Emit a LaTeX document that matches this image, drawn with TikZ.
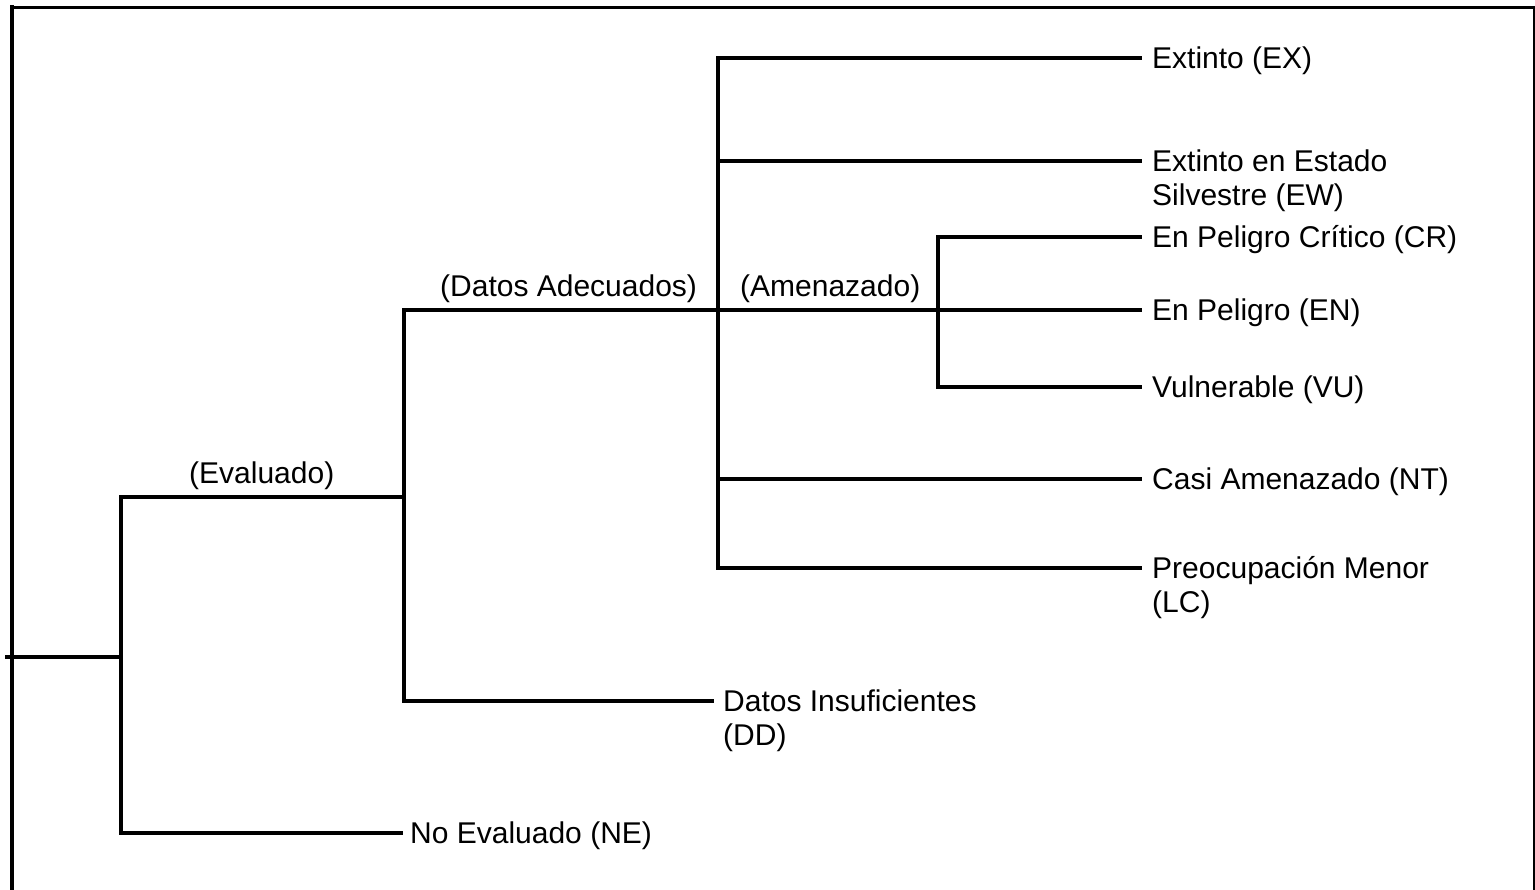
\documentclass[tikz,border=0pt]{standalone}
\usepackage{fontspec}
\setmainfont{Liberation Sans}
\begin{document}
\begin{tikzpicture}[x=1pt,y=-1pt,
  tline/.style={line width=3.2pt,line cap=rect},
  lab/.style={font=\fontsize{30}{34}\selectfont,anchor=west,inner xsep=12pt,inner ysep=0pt,
              text height=21pt,text depth=0pt},
  brlab/.style={font=\fontsize{30}{34}\selectfont,anchor=west,inner sep=0pt,
              text height=21pt,text depth=0pt}]
\useasboundingbox (0,0) rectangle (1535,890);
% frame
\draw[line width=4pt] (12.3,5.5) -- (12.3,890);
\draw[line width=3pt] (10.3,7.2) -- (1535,7.2);
\draw[line width=2.6pt] (1534,6) -- (1534,890);
% junction coordinates
\coordinate (root) at (7,657);
\coordinate (j1) at (121,657);
\coordinate (j1t) at (121,497);
\coordinate (j1b) at (121,833);
\coordinate (j2) at (404,497);
\coordinate (j2t) at (404,310);
\coordinate (j2b) at (404,701);
\coordinate (j3) at (718,310);
\coordinate (j3t) at (718,58);
\coordinate (j3b) at (718,568);
\coordinate (j4) at (938,310);
\coordinate (j4t) at (938,237);
\coordinate (j4b) at (938,387);
% leaf labels
\node[lab] (ex) at (1140,58) {Extinto (EX)};
\node[lab] (ew) at (1140,161) {\begin{tabular}[t]{@{}l@{}}Extinto en Estado\\Silvestre (EW)\end{tabular}};
\node[lab] (cr) at (1140,237) {En Peligro Crítico (CR)};
\node[lab] (en) at (1140,310) {En Peligro (EN)};
\node[lab] (vu) at (1140,387) {Vulnerable (VU)};
\node[lab] (nt) at (1140,479) {Casi Amenazado (NT)};
\node[lab] (lc) at (1140,568) {\begin{tabular}[t]{@{}l@{}}Preocupación Menor\\(LC)\end{tabular}};
\node[lab,inner xsep=11pt] (dd) at (712,701) {\begin{tabular}[t]{@{}l@{}}Datos Insuficientes\\(DD)\end{tabular}};
\node[lab,inner xsep=9pt] (ne) at (401,833) {No Evaluado (NE)};
% branch labels
\node[brlab] (lev) at (189,473) {(Evaluado)};
\node[brlab] (lda) at (440,286) {(Datos Adecuados)};
\node[brlab] (lam) at (740,286) {(Amenazado)};
% tree lines
\draw[tline] (root) -- (j1);
\draw[tline] (j1t) -- (j1b);
\draw[tline] (j1t) -- (j2);
\draw[tline] (j1b) -- (ne.west);
\draw[tline] (j2t) -- (j2b);
\draw[tline] (j2t) -- (j3);
\draw[tline] (j2b) -- (dd.west);
\draw[tline] (j3t) -- (j3b);
\draw[tline] (j3t) -- (ex.west);
\draw[tline] (j3 |- ew.west) -- (ew.west);
\draw[tline] (j3) -- (j4) -- (en.west);
\draw[tline] (j3 |- nt.west) -- (nt.west);
\draw[tline] (j3b) -- (lc.west);
\draw[tline] (j4t) -- (j4b);
\draw[tline] (j4t) -- (cr.west);
\draw[tline] (j4b) -- (vu.west);
\end{tikzpicture}
\end{document}
